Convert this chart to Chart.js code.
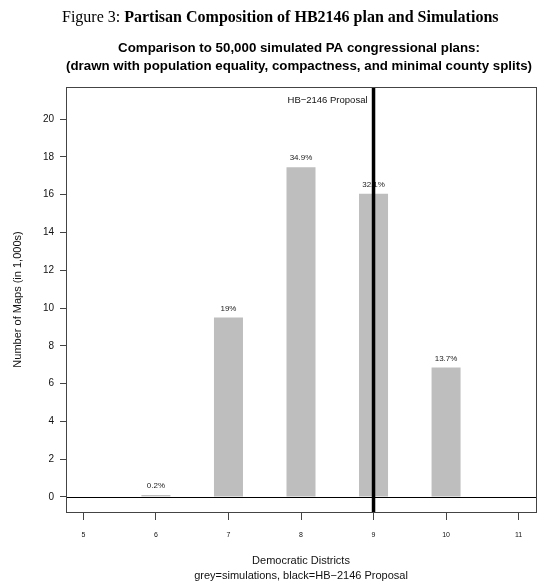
<!DOCTYPE html>
<html>
<head>
<meta charset="utf-8">
<script src="https://cdn.jsdelivr.net/npm/chart.js@4/dist/chart.umd.min.js"></script>
<style>
  html, body { margin: 0; padding: 0; background: #fff; }
  #wrap { width: 538px; height: 583px; }
</style>
</head>
<body>
<div id="wrap"><canvas id="chart" width="538" height="583"></canvas></div>
<script>
// data
let districts = [6, 7, 8, 9, 10];
let mapsThousands = [0.1, 9.5, 17.45, 16.05, 6.85];
let pctLabels = ["0.2%", "19%", "34.9%", "32.1%", "13.7%"];
let proposalDistricts = 9;
let xTicks = [5, 6, 7, 8, 9, 10, 11];
let yTicks = [0, 2, 4, 6, 8, 10, 12, 14, 16, 18, 20];

let sans = "'Liberation Sans', Arial, sans-serif";
let serif = "'Liberation Serif', 'DejaVu Serif', serif";

// titles, bar labels, proposal line, box
let extras = {
    id: "extras",
    afterDatasetsDraw(chart) {
        let ctx = chart.ctx;
        let area = chart.chartArea;
        let x = chart.scales.x;
        let y = chart.scales.y;
        ctx.save();

        // caption
        ctx.fillStyle = "#000";
        ctx.textBaseline = "alphabetic";
        ctx.textAlign = "left";
        ctx.font = "16px " + serif;
        let part1 = "Figure 3: ";
        ctx.fillText(part1, 62, 22);
        let w1 = ctx.measureText(part1).width;
        ctx.font = "bold 16px " + serif;
        ctx.fillText("Partisan Composition of HB2146 plan and Simulations", 62 + w1, 22);

        // main title
        ctx.textAlign = "center";
        ctx.textBaseline = "middle";
        ctx.font = "bold 13.3px " + sans;
        ctx.fillText("Comparison to 50,000 simulated PA congressional plans:", 299, 48);
        ctx.fillText("(drawn with population equality, compactness, and minimal county splits)", 299, 66);

        // zero line
        ctx.strokeStyle = "#000";
        ctx.lineWidth = 1;
        let y0 = Math.round(y.getPixelForValue(0)) + 0.5;
        ctx.beginPath();
        ctx.moveTo(area.left, y0);
        ctx.lineTo(area.right, y0);
        ctx.stroke();

        // percent labels
        ctx.font = "8px " + sans;
        ctx.fillStyle = "#222";
        districts.forEach((d, i) => {
            ctx.fillText(pctLabels[i], x.getPixelForValue(d), y.getPixelForValue(mapsThousands[i]) - 9);
        });

        // proposal line
        let xp = x.getPixelForValue(proposalDistricts);
        ctx.lineWidth = 3.5;
        ctx.beginPath();
        ctx.moveTo(xp, area.top);
        ctx.lineTo(xp, area.bottom);
        ctx.stroke();

        ctx.font = "9.5px " + sans;
        ctx.fillStyle = "#111";
        ctx.textAlign = "right";
        ctx.fillText("HB\u22122146 Proposal", xp - 6, 100);

        // box
        ctx.strokeStyle = "#444";
        ctx.lineWidth = 1;
        ctx.strokeRect(area.left + 0.5, area.top + 0.5, area.right - area.left, area.bottom - area.top);
        ctx.restore();
    }
};

let ctx = document.getElementById("chart").getContext("2d");
let chart = new Chart(ctx, {
    type: "bar",
    data: {
        datasets: [{
            label: "Simulations",
            data: districts.map((d, i) => ({ x: d, y: mapsThousands[i] })),
            backgroundColor: "#bebebe",
            borderWidth: 0,
            categoryPercentage: 1,
            barPercentage: 0.4
        }]
    },
    options: {
        responsive: false,
        devicePixelRatio: 1,
        animation: false,
        layout: { padding: { top: 87, right: 2, left: 0, bottom: 0 } },
        plugins: {
            legend: { display: false },
            tooltip: { enabled: false }
        },
        scales: {
            x: {
                type: "linear",
                min: 4.76,
                max: 11.24,
                offset: false,
                afterBuildTicks: axis => { axis.ticks = xTicks.map(v => ({ value: v })); },
                afterFit: axis => { axis.height = 71; },
                grid: {
                    offset: false,
                    drawOnChartArea: false,
                    drawTicks: true,
                    tickLength: 8,
                    tickColor: "#444"
                },
                border: { display: false },
                ticks: {
                    font: { family: sans, size: 7 },
                    color: "#111",
                    padding: 11,
                    maxRotation: 0
                },
                title: {
                    display: true,
                    text: ["Democratic Districts", "grey=simulations, black=HB\u22122146 Proposal"],
                    font: { family: sans, size: 11, lineHeight: 1.35 },
                    color: "#111",
                    padding: { top: 0, bottom: 0 }
                }
            },
            y: {
                min: -0.8,
                max: 21.7,
                afterBuildTicks: axis => { axis.ticks = yTicks.map(v => ({ value: v })); },
                afterFit: axis => { axis.width = 66; },
                grid: {
                    drawOnChartArea: false,
                    drawTicks: true,
                    tickLength: 6,
                    tickColor: "#444"
                },
                border: { display: false },
                ticks: {
                    font: { family: sans, size: 10 },
                    color: "#111",
                    padding: 6
                },
                title: {
                    display: true,
                    text: "Number of Maps (in 1,000s)",
                    font: { family: sans, size: 11 },
                    color: "#111",
                    padding: { top: 11, bottom: 0 }
                }
            }
        }
    },
    plugins: [extras]
});
</script>
</body>
</html>
